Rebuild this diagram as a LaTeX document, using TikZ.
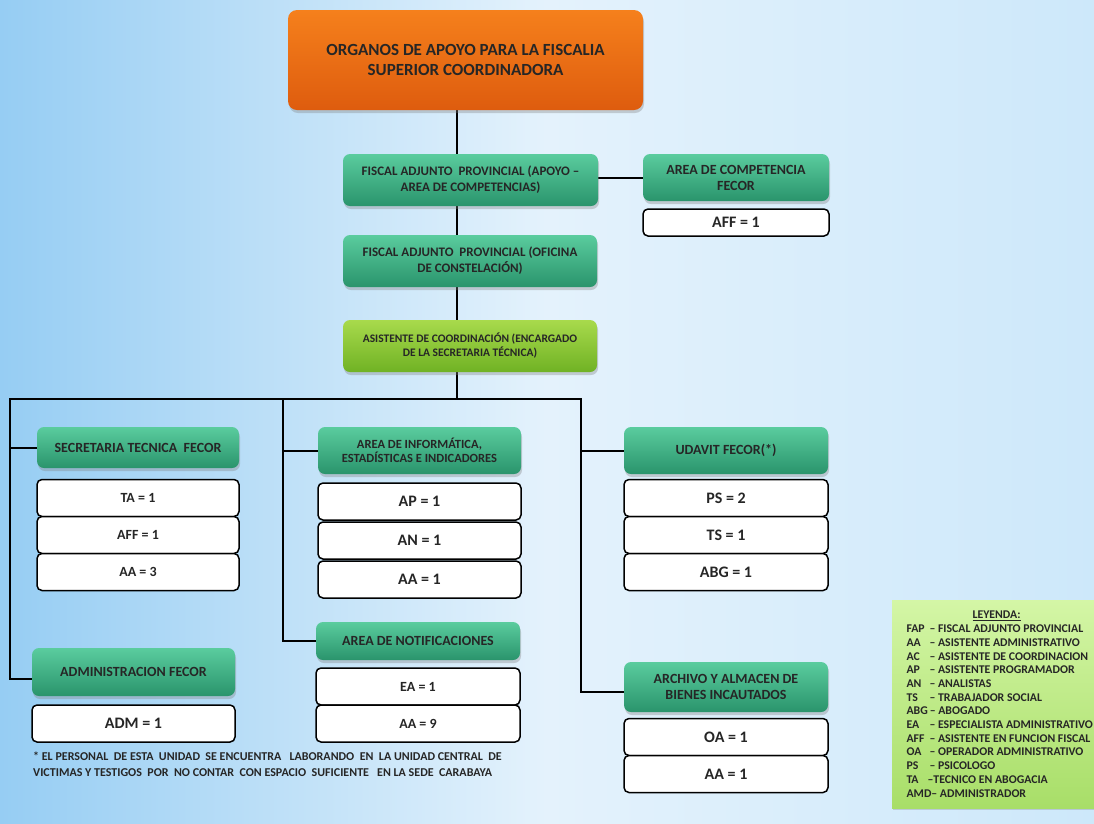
\documentclass[tikz,border=0pt]{standalone}
\usepackage{fontspec}
\setmainfont{Carlito}
\usetikzlibrary{shapes,arrows,positioning,shadows,backgrounds}
\definecolor{skyblue}{RGB}{150,205,243}
\definecolor{paleblue}{RGB}{228,242,252}
\definecolor{lightblue}{RGB}{205,232,250}
\definecolor{tealtop}{RGB}{90,204,158}
\definecolor{tealbot}{RGB}{42,148,108}
\definecolor{orangetop}{RGB}{245,128,28}
\definecolor{orangebot}{RGB}{222,92,14}
\definecolor{limetop}{RGB}{168,218,76}
\definecolor{limebot}{RGB}{112,178,36}
\definecolor{leytop}{RGB}{212,246,166}
\definecolor{leybot}{RGB}{168,222,104}
\tikzstyle{link} = [line width=2pt, black]
\tikzstyle{headbox} = [rounded corners=9pt, top color=orangetop, bottom color=orangebot, drop shadow={opacity=0.35, shadow xshift=1pt, shadow yshift=-3pt}, align=center, text=black!85, inner sep=0pt, font=\bfseries\fontsize{17}{20}\selectfont]
\tikzstyle{unit} = [rounded corners=7pt, top color=tealtop, bottom color=tealbot, drop shadow={opacity=0.35, shadow xshift=1pt, shadow yshift=-3pt}, align=center, text=black!85, inner sep=0pt, font=\bfseries\fontsize{14}{16}\selectfont]
\tikzstyle{coord} = [unit, top color=limetop, bottom color=limebot]
\tikzstyle{staff} = [draw, line width=1.5pt, rounded corners=5pt, fill=white, inner sep=0pt, minimum height=37pt, text=black!85, font=\bfseries\fontsize{16}{18}\selectfont]
\tikzstyle{staffsm} = [staff, font=\bfseries\fontsize{14}{16}\selectfont]
\tikzstyle{leybox} = [top color=leytop, bottom color=leybot, drop shadow={opacity=0.3, shadow xshift=1pt, shadow yshift=-2pt}, align=left, text=black!85, inner xsep=12pt, inner ysep=6pt, font=\bfseries\fontsize{11.8}{13.7}\selectfont]
\newcommand{\leyitem}[2]{\makebox[21pt][l]{#1}\,–\ #2}

\begin{document}
\begin{tikzpicture}[x=1pt, y=-1pt]
    \useasboundingbox (0,0) rectangle (1094,823);
    \begin{scope}[on background layer]
        \fill[left color=skyblue, right color=lightblue, middle color=paleblue] (0,0) rectangle (1094,823);
    \end{scope}

    \node[headbox, minimum width=355pt, minimum height=100pt] (fsc) at (465.5,60) {ORGANOS DE APOYO PARA LA FISCALIA\\SUPERIOR COORDINADORA};
    \node[unit, minimum width=255pt, minimum height=52pt, font=\bfseries\fontsize{13}{16}\selectfont] (fapa) at (470.5,180) {FISCAL ADJUNTO\ \ PROVINCIAL (APOYO –\\AREA DE COMPETENCIAS)};
    \node[unit, minimum width=186pt, minimum height=47pt] (comp) at (736,177.5) {AREA DE COMPETENCIA\\FECOR};
    \node[staff, minimum width=186pt, minimum height=27pt] (compaff) at (736,222.5) {AFF = 1};
    \node[unit, minimum width=254pt, minimum height=52pt, font=\bfseries\fontsize{13}{16}\selectfont] (fapb) at (470,261) {FISCAL ADJUNTO\ \ PROVINCIAL (OFICINA\\DE CONSTELACIÓN)};
    \node[coord, minimum width=254pt, minimum height=52pt, font=\bfseries\fontsize{11.5}{14}\selectfont] (asist) at (470,346) {ASISTENTE DE COORDINACIÓN (ENCARGADO\\DE LA SECRETARIA TÉCNICA)};

    \node[unit, minimum width=202pt, minimum height=41pt] (sec) at (138,447.5) {SECRETARIA TECNICA\ \ FECOR};
    \node[staffsm, minimum width=202pt] (sec1) at (138,498) {TA = 1};
    \node[staffsm, minimum width=202pt] (sec2) at (138,535) {AFF = 1};
    \node[staffsm, minimum width=202pt] (sec3) at (138,572) {AA = 3};

    \node[unit, minimum width=203pt, minimum height=47pt, font=\bfseries\fontsize{12.5}{14}\selectfont] (info) at (419.5,450.5) {AREA DE INFORMÁTICA,\\ESTADÍSTICAS E INDICADORES};
    \node[staff, minimum width=203pt] (info1) at (419.5,501.5) {AP = 1};
    \node[staff, minimum width=203pt] (info2) at (419.5,540.5) {AN = 1};
    \node[staff, minimum width=203pt] (info3) at (419.5,579.5) {AA = 1};

    \node[unit, minimum width=204pt, minimum height=47pt] (udavit) at (726,450.5) {UDAVIT FECOR(*)};
    \node[staff, minimum width=204pt] (uda1) at (726,498) {PS = 2};
    \node[staff, minimum width=204pt] (uda2) at (726,535) {TS = 1};
    \node[staff, minimum width=204pt] (uda3) at (726,572) {ABG = 1};

    \node[unit, minimum width=203pt, minimum height=48pt] (adm) at (133.5,672) {ADMINISTRACION FECOR};
    \node[staff, minimum width=203pt] (adm1) at (133.5,723.5) {ADM = 1};

    \node[unit, minimum width=204pt, minimum height=38pt] (notif) at (418,641) {AREA DE NOTIFICACIONES};
    \node[staffsm, minimum width=204pt] (notif1) at (418,686.5) {EA = 1};
    \node[staffsm, minimum width=204pt] (notif2) at (418,723.5) {AA = 9};

    \node[unit, minimum width=204pt, minimum height=50pt] (arch) at (726,687) {ARCHIVO Y ALMACEN DE\\BIENES INCAUTADOS};
    \node[staff, minimum width=204pt] (arch1) at (726,737) {OA = 1};
    \node[staff, minimum width=204pt] (arch2) at (726,774) {AA = 1};

    \node[anchor=north west, align=left, inner sep=0pt, text=black!85, font=\bfseries\fontsize{12}{16}\selectfont] (nota) at (33,752) {* EL PERSONAL\ \ DE ESTA\ \ UNIDAD\ \ SE ENCUENTRA\ \ \ LABORANDO\ \ EN\ \ LA UNIDAD CENTRAL\ \ DE\\VICTIMAS Y TESTIGOS\ \ POR\ \ NO CONTAR\ \ CON ESPACIO\ \ SUFICIENTE\ \ \ EN LA SEDE\ \ CARABAYA};

    \node[leybox, anchor=north west, minimum width=215pt, minimum height=208pt] (ley) at (892,600) {\makebox[180pt]{\underline{LEYENDA:}}\\
        \leyitem{FAP}{FISCAL ADJUNTO PROVINCIAL}\\
        \leyitem{AA}{ASISTENTE ADMINISTRATIVO}\\
        \leyitem{AC}{ASISTENTE DE COORDINACION}\\
        \leyitem{AP}{ASISTENTE PROGRAMADOR}\\
        \leyitem{AN}{ANALISTAS}\\
        \leyitem{TS}{TRABAJADOR SOCIAL}\\
        ABG\,–\ ABOGADO\\
        \leyitem{EA}{ESPECIALISTA ADMINISTRATIVO}\\
        \leyitem{AFF}{ASISTENTE EN FUNCION FISCAL}\\
        \leyitem{OA}{OPERADOR ADMINISTRATIVO}\\
        \leyitem{PS}{PSICOLOGO}\\
        \makebox[21pt][l]{TA}–TECNICO EN ABOGACIA\\
        AMD–\ ADMINISTRADOR};

    \coordinate (bus) at (457,399);
    \coordinate (busl) at (10,399);
    \coordinate (busm) at (283,399);
    \coordinate (busr) at (581,399);

    \begin{scope}[on background layer]
        \draw[link] (fsc.south -| bus) -- (bus);
        \draw[link] (comp.west -| fapa.east) -- (comp.west);
        \draw[link] ([yshift=-7pt]adm.west) -| (busl) -- (busr) |- ([yshift=-5pt]arch.west);
        \draw[link] (busm) |- (notif.west);
        \draw[link] (sec.west) -- (sec.west -| busl);
        \draw[link] (info.west) -- (info.west -| busm);
        \draw[link] (udavit.west) -- (udavit.west -| busr);
    \end{scope}
\end{tikzpicture}
\end{document}
